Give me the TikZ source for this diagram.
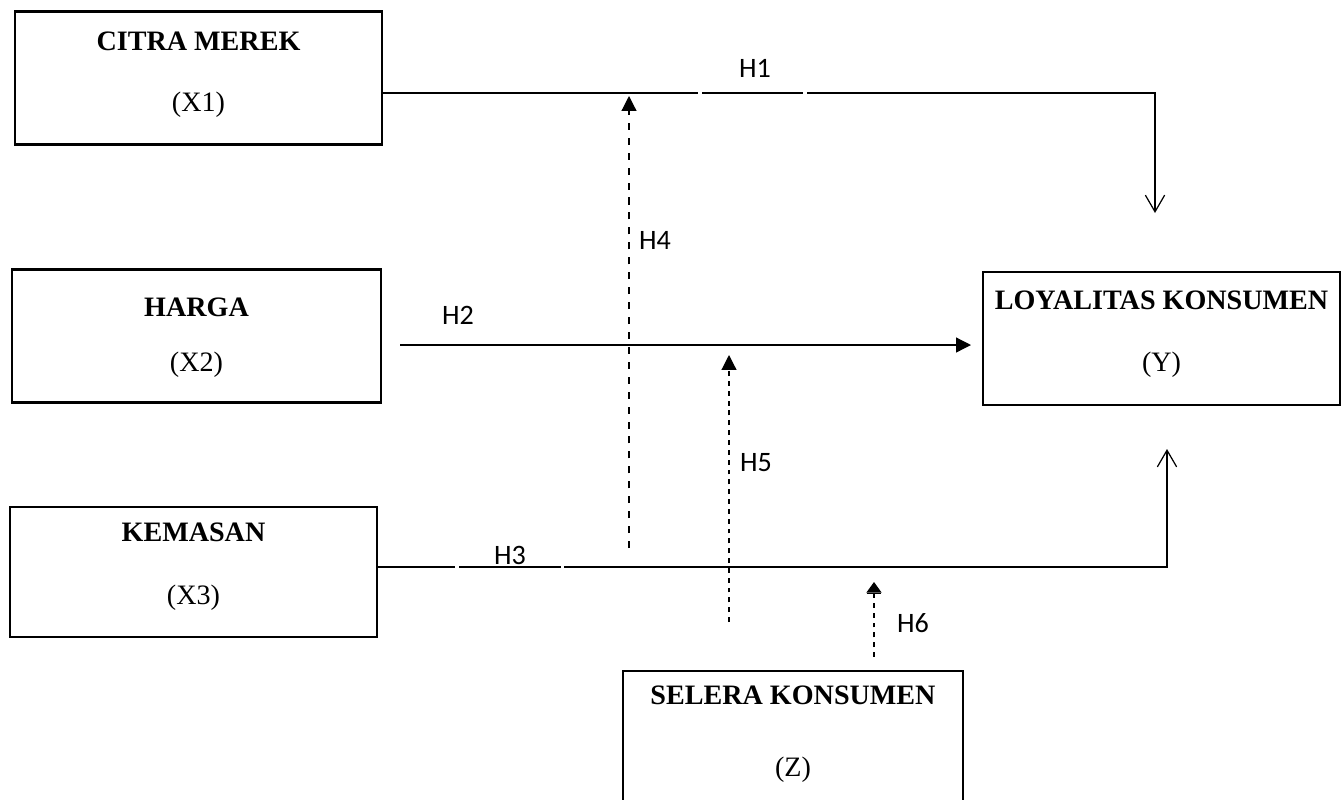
\documentclass[tikz,border=0pt]{standalone}
\usepackage{fontspec}
\setmainfont{Liberation Serif}
\newfontfamily\hfont{Carlito}
\usetikzlibrary{arrows.meta}
\usetikzlibrary{positioning}

\tikzset{
    box/.style={rectangle,draw,line width=1.2pt,minimum width=7.34cm,minimum height=2.66cm},
    ttl/.style={font=\fontsize{16}{19}\selectfont\bfseries},
    code/.style={font=\fontsize{16}{19}\selectfont},
    hyp/.style={font=\hfont\fontsize{16}{19}\selectfont},
    conn/.style={line width=0.7pt},
    barb/.style={-{Straight Barb[length=9.5pt,width=11pt]}},
    tri/.style={-{Triangle[length=8.5pt,width=8.5pt]}},
    longdash/.style={dash pattern=on 4pt off 4.5pt},
    shortdash/.style={dash pattern=on 2.8pt off 2.8pt}
}

\begin{document}
\begin{tikzpicture}[x=0.02cm,y=-0.02cm]
    \useasboundingbox (0,0) rectangle (1342,799);
    % boxes
    \node[box] (citra) at (198.5,78) {};
    \node[box,minimum width=7.38cm] (harga) at (196.5,336) {};
    \node[box,minimum height=2.6cm] (kemasan) at (193.5,572) {};
    \node[box,minimum width=7.14cm] (loyal) at (1161.5,338.5) {};
    \node[box,minimum width=6.8cm,minimum height=3.2cm] (selera) at (793,751) {};
    % box texts
    \node[ttl] (citraT) at (citra.north |- 0,41) {CITRA MEREK};
    \node[code] (citraC) at (citra.north |- 0,105) {(X1)};
    \node[ttl] (hargaT) at (harga.north |- 0,307) {HARGA};
    \node[code] (hargaC) at (harga.north |- 0,365) {(X2)};
    \node[ttl] (kemasanT) at (kemasan.north |- 0,532) {KEMASAN};
    \node[code] (kemasanC) at (kemasan.north |- 0,598) {(X3)};
    \node[ttl] (loyalT) at (loyal.north |- 0,300) {LOYALITAS KONSUMEN};
    \node[code] (loyalC) at (loyal.north |- 0,365) {(Y)};
    \node[ttl] (seleraT) at (selera.north |- 0,695) {SELERA KONSUMEN};
    \node[code] (seleraC) at (selera.north |- 0,770) {(Z)};
    % bends and free ends
    \coordinate (h1bend) at (1155,93);
    \coordinate (h1end) at (1155,213);
    \coordinate (h2end) at (971,345);
    \coordinate (h3bend) at (1167,567);
    \coordinate (h3end) at (1167,449);
    \coordinate (h4start) at (629,548);
    \coordinate (h4end) at (629,96);
    \coordinate (h5start) at (729,622);
    \coordinate (h5end) at (729,355);
    \coordinate (h6end) at (874,582);
    % direct paths
    \draw[conn,barb] (citra.east |- h1bend) -- (698,93) (702,93) -- (803,93)
        (807,93) -- (h1bend) -- (h1end);
    \draw[conn,tri] (harga.east |- h2end) ++(18,0) -- (h2end);
    \draw[conn,barb] (kemasan.east |- h3bend) -- (455,567) (459,567) -- (561,567)
        (564,567) -- (h3bend) -- (h3end);
    % moderating paths
    \draw[conn,tri,longdash] (h4start) -- (h4end);
    \draw[conn,tri,shortdash] (h5start) -- (h5end);
    \draw[conn,-{Bar[width=8.5pt,line width=1pt] Triangle[length=6pt,width=8.5pt]},shortdash]
        (selera.north -| h6end) ++(0,-13) -- (h6end);
    % labels
    \node[hyp] (h1) at (755,68) {H1};
    \node[hyp] (h2) at (458,315) {H2};
    \node[hyp] (h3) at (510,555) {H3};
    \node[hyp] (h4) at (655,240) {H4};
    \node[hyp] (h5) at (756,463) {H5};
    \node[hyp] (h6) at (913,623) {H6};
\end{tikzpicture}
\end{document}
